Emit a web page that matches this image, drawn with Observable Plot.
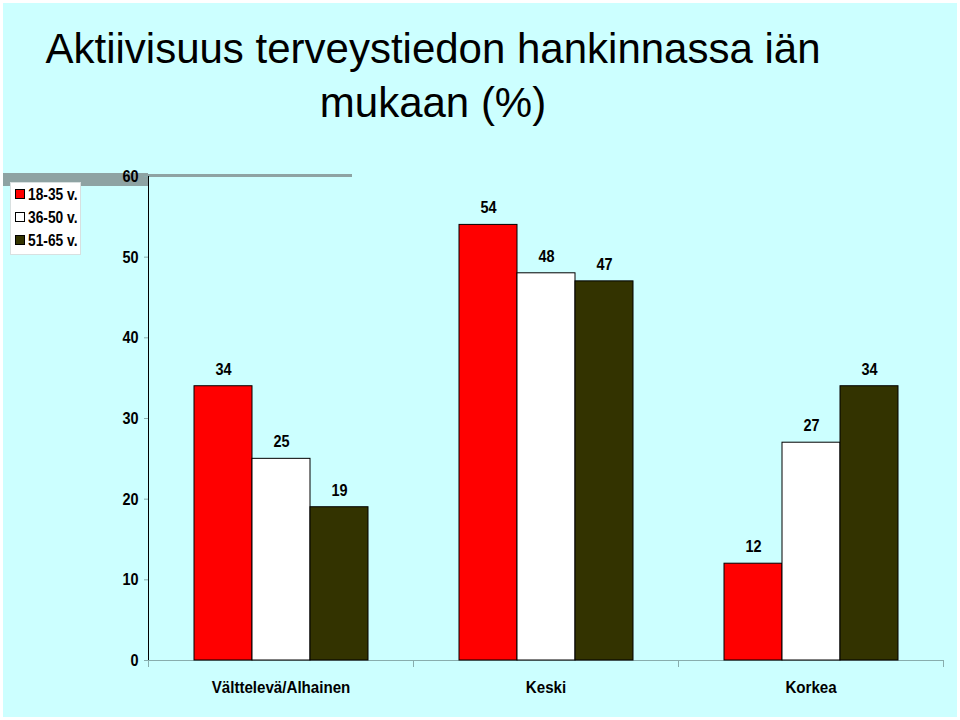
<!DOCTYPE html>
<html><head><meta charset="utf-8">
<script src="https://cdn.jsdelivr.net/npm/d3@7"></script>
<script src="https://cdn.jsdelivr.net/npm/@observablehq/plot@0.6"></script>
<style>
html,body{margin:0;padding:0;background:#fff;width:960px;height:720px;overflow:hidden;}
body{position:relative;font-family:"Liberation Sans Narrow","Arial Narrow","Liberation Sans",sans-serif;}
#bg{position:absolute;left:3px;top:3px;width:954px;height:714px;background:#ccffff;}
#title{position:absolute;left:0;top:22px;width:866px;text-align:center;font-size:42px;line-height:54px;color:#000;}
#chart{position:absolute;left:0;top:160px;}
#band{position:absolute;left:3px;top:173px;width:145px;height:13px;background:#8ea3a3;}
#topline{position:absolute;left:148px;top:174px;width:204px;height:3px;background:#8ea3a3;}
#legend{position:absolute;left:10px;top:182px;width:71px;height:73px;background:#fff;border:1px solid #d8e0e0;box-sizing:border-box;font-weight:bold;font-size:16px;}
.li{position:absolute;left:4px;height:18px;line-height:18px;white-space:nowrap;}
.sw{display:inline-block;width:8px;height:8px;border:1px solid #000;margin-right:3px;vertical-align:1px;}
.lt{display:inline-block;transform:scaleX(0.86);transform-origin:left center;}
#chart g[aria-label^="y-axis"] text{font-size:17px;font-weight:bold;fill:#000;}
#chart g[aria-label^="fx-axis"] text{font-size:17px;font-weight:bold;fill:#000;}
#chart g[aria-label^="y-axis"] line, #chart g[aria-label^="y-axis"] path{stroke:#88adad;}
</style></head>
<body>
<div id="bg"></div>
<div id="title">Aktiivisuus terveystiedon hankinnassa iän<br>mukaan (%)</div>
<div id="band"></div>
<div id="topline"></div>
<div id="chart"></div>
<div id="legend"></div>
<script>
const categories = ["Välttelevä/Alhainen", "Keski", "Korkea"];
const series = ["18-35 v.", "36-50 v.", "51-65 v."];
const values18to35 = [34, 54, 12];
const values36to50 = [25, 48, 27];
const values51to65 = [19, 47, 34];
const seriesColors = ["#ff0000", "#ffffff", "#333300"];
const yTicks = [0, 10, 20, 30, 40, 50, 60];

const seriesValues = [values18to35, values36to50, values51to65];
const data = [];
categories.forEach((c, i) => series.forEach((s, j) => data.push({category: c, series: s, value: seriesValues[j][i]})));

const axisColor = "#88adad";
const font = '"Liberation Sans Narrow","Arial Narrow","Liberation Sans",sans-serif';

const chart = Plot.plot({
  width: 960, height: 560,
  marginLeft: 147, marginRight: 17, marginTop: 16, marginBottom: 60,
  style: {background: "transparent", fontFamily: font, color: "#000"},
  fx: {domain: categories, padding: 0, label: null, axis: "bottom", tickSize: 0, tickPadding: 20},
  x: {domain: series, paddingInner: 0, paddingOuter: 0.75, axis: null},
  y: {domain: [0, 60], ticks: yTicks, label: null, tickSize: 4, tickPadding: 6, line: true},
  color: {domain: series, range: seriesColors},
  marks: [
    Plot.frame({anchor: "left", stroke: axisColor, insetTop: 484, insetBottom: -6}),
    Plot.frame({anchor: "right", stroke: axisColor, insetTop: 484, insetBottom: -6}),
    Plot.ruleY([0], {stroke: axisColor}),
    Plot.barY(data, {fx: "category", x: "series", y: "value", fill: "series", stroke: "#000", strokeWidth: 1}),
    Plot.text(data, {fx: "category", x: "series", y: "value", text: d => String(d.value), dy: -17, fontSize: 17, fontWeight: "bold", fill: "#000"})
  ]
});
document.getElementById("chart").append(chart);

// Condense text horizontally (the original uses a narrow typeface), scaling around each text's anchor
function condense(selector, s, anchor) {
  chart.querySelectorAll(selector).forEach(el => {
    const b = el.getBBox();
    const ax = anchor === "end" ? b.x + b.width : b.x + b.width / 2;
    const t = el.getAttribute("transform") || "";
    el.setAttribute("transform", `${t} translate(${ax},0) scale(${s},1) translate(${-ax},0)`);
  });
}
condense('g[aria-label^="y-axis"] text', 0.85, "end");
condense('g[aria-label^="fx-axis"] text', 0.89, "middle");
condense('g[aria-label="text"] text', 0.85, "middle");

const legend = document.getElementById("legend");
series.forEach((s, j) => {
  const row = document.createElement("div");
  row.className = "li";
  row.style.top = (3 + j * 23) + "px";
  const sw = document.createElement("span");
  sw.className = "sw";
  sw.style.background = seriesColors[j];
  const t = document.createElement("span");
  t.className = "lt";
  t.textContent = s;
  row.append(sw, t);
  legend.append(row);
});
</script>
</body></html>
